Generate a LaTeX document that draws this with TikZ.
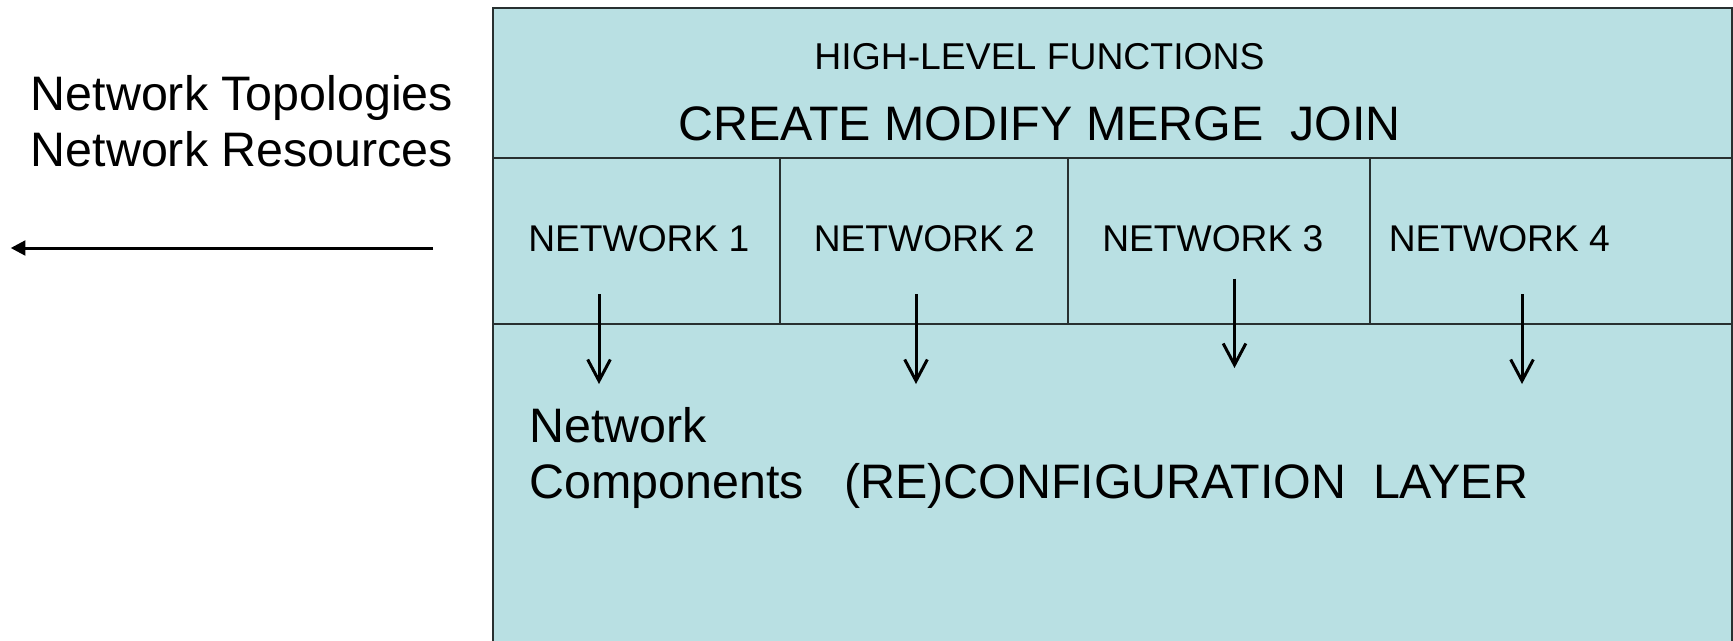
\documentclass[tikz,border=0pt]{standalone}
\usepackage{fontspec}
\setmainfont{Liberation Sans}
\usetikzlibrary{arrows.meta}
\definecolor{panel}{RGB}{185,224,227}
\definecolor{rule}{RGB}{40,48,48}
\begin{document}
\begin{tikzpicture}[x=0.75pt,y=-0.75pt,
  frame/.style={draw=rule, line width=1.5pt},
  biglbl/.style={anchor=base west, inner sep=0, font=\fontsize{36.3}{43}\selectfont},
  netlbl/.style={anchor=base west, inner sep=0, font=\fontsize{27.9}{33}\selectfont},
  flow/.style={line width=2.25pt, -{Straight Barb[length=16pt,width=17pt,line width=2.25pt]}},
  back/.style={line width=2.25pt, -{Triangle[length=11pt,width=11pt]}}]
\useasboundingbox (0,0) rectangle (1733,640);

% layered panel
\fill[panel] (493,8) rectangle (1732,645);
\draw[frame] (493,645) -- (493,8) -- (1732,8) -- (1732,645);
\draw[frame] (493,158) -- (1732,158);
\draw[frame] (493,324) -- (1732,324);
\foreach \x in {780,1068,1370} \draw[frame] (\x,158) -- (\x,324);

% top band
\node[anchor=base, inner sep=0, font=\fontsize{28}{33}\selectfont] (hlf) at (1039.5,69) {HIGH-LEVEL FUNCTIONS};
\node[biglbl] (ops) at (678,140.7) {CREATE MODIFY MERGE\ \ JOIN};

% network cells
\node[netlbl] (net1) at (528,251.7) {NETWORK 1};
\node[netlbl] (net2) at (813.5,251.7) {NETWORK 2};
\node[netlbl] (net3) at (1102,251.7) {NETWORK 3};
\node[netlbl] (net4) at (1388.5,251.7) {NETWORK 4};

% bottom layer
\node[biglbl] (comp1) at (529,442.7) {Network};
\node[biglbl] (comp2) at (529,498) {Components};
\node[biglbl] (layer) at (844,498) {(RE)CONFIGURATION\ \ LAYER};

% outside labels
\node[biglbl] (topo) at (30.5,110.7) {Network Topologies};
\node[biglbl] (res) at (30.5,166.7) {Network Resources};

% arrows
\coordinate (s1) at (599,294);    \coordinate (e1) at (599,384);
\coordinate (s2) at (916,294);    \coordinate (e2) at (916,384);
\coordinate (s3) at (1234.5,278.5); \coordinate (e3) at (1234.5,368);
\coordinate (s4) at (1522,294);   \coordinate (e4) at (1522,384);
\foreach \i in {1,2,3,4} \draw[flow] (s\i) -- (e\i);

\coordinate (outR) at (433,248);
\coordinate (outL) at (10.7,248);
\draw[back] (outR) -- (outL);
\end{tikzpicture}
\end{document}
